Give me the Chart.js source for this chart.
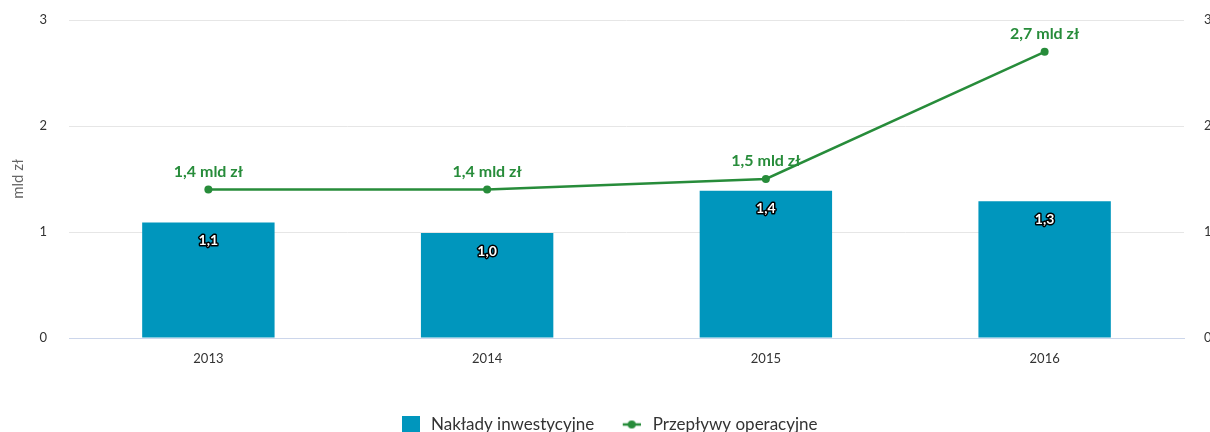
<!DOCTYPE html>
<html>
<head>
<meta charset="utf-8">
<script src="https://cdn.jsdelivr.net/npm/chart.js@4"></script>
<style>
html,body{margin:0;padding:0;background:#fff;}
#wrap{width:1210px;height:432px;position:relative;}
</style>
</head>
<body>
<div id="wrap"><canvas id="c" width="1210" height="432"></canvas></div>
<script>
const categories = ['2013', '2014', '2015', '2016'];
const capex = [1.09, 0.99, 1.39, 1.29];
const opCashFlow = [1.4, 1.4, 1.5, 2.7];
const yTicks = [0, 1, 2, 3];
const seriesNames = ['Nakłady inwestycyjne', 'Przepływy operacyjne'];
const axisTitle = 'mld zł';

const FONT = 'Lato, "Open Sans", sans-serif';
const BLUE = '#0096bd';
const GREEN = '#278c3a';

const fmt = v => v.toFixed(1).replace('.', ',');

function makeSquare() {
  const c = document.createElement('canvas');
  c.width = 25; c.height = 18;
  const x = c.getContext('2d');
  x.fillStyle = BLUE; x.fillRect(7, 0, 18, 18);
  return c;
}
function makeLineMarker() {
  const c = document.createElement('canvas');
  c.width = 23; c.height = 10;
  const x = c.getContext('2d');
  x.strokeStyle = GREEN; x.lineWidth = 2.5;
  x.beginPath(); x.moveTo(5, 5); x.lineTo(23, 5); x.stroke();
  x.fillStyle = GREEN; x.beginPath(); x.arc(14, 5, 4, 0, Math.PI * 2); x.fill();
  return c;
}
const squareImg = makeSquare();
const lineImg = makeLineMarker();

const labelPlugin = {
  id: 'valueLabels',
  afterDatasetsDraw(chart) {
    const ctx = chart.ctx;
    ctx.save();
    ctx.textAlign = 'center';
    ctx.textBaseline = 'middle';
    const barMeta = chart.getDatasetMeta(0);
    ctx.font = 'bold 14px ' + FONT;
    ctx.lineJoin = 'round';
    barMeta.data.forEach((el, i) => {
      const t = fmt(capex[i]);
      const y = el.y + 18;
      ctx.lineWidth = 3;
      ctx.strokeStyle = '#000';
      ctx.strokeText(t, el.x, y);
      ctx.fillStyle = '#fff';
      ctx.fillText(t, el.x, y);
    });
    const lineMeta = chart.getDatasetMeta(1);
    ctx.font = 'bold 16px ' + FONT;
    ctx.fillStyle = GREEN;
    lineMeta.data.forEach((el, i) => {
      ctx.fillText(fmt(opCashFlow[i]) + ' mld zł', el.x, el.y - 18);
    });
    ctx.restore();
  }
};

function noVPad(s) { s.paddingTop = 0; s.paddingBottom = 0; }

new Chart(document.getElementById('c'), {
  data: {
    labels: categories,
    datasets: [
      {
        type: 'bar',
        label: seriesNames[0],
        data: capex,
        backgroundColor: BLUE,
        borderWidth: 0,
        categoryPercentage: 1,
        barPercentage: 0.475,
        yAxisID: 'y',
        order: 2
      },
      {
        type: 'line',
        label: seriesNames[1],
        data: opCashFlow,
        borderColor: GREEN,
        backgroundColor: GREEN,
        borderWidth: 2.5,
        pointRadius: 4,
        pointBackgroundColor: GREEN,
        pointBorderWidth: 0,
        tension: 0,
        yAxisID: 'y',
        order: 1
      }
    ]
  },
  options: {
    responsive: false,
    animation: false,
    devicePixelRatio: 1,
    layout: { autoPadding: false, padding: { top: 20, left: 0, right: 0, bottom: -11 } },
    plugins: {
      tooltip: { enabled: false },
      legend: {
        position: 'bottom',
        labels: {
          font: { family: FONT, size: 17 },
          color: '#333',
          usePointStyle: true,
          pointStyleWidth: 30,
          boxHeight: 18,
          padding: 20,
          generateLabels(chart) {
            return [
              { text: seriesNames[0], pointStyle: squareImg, fillStyle: BLUE, strokeStyle: BLUE, lineWidth: 0, datasetIndex: 0, fontColor: '#333' },
              { text: seriesNames[1], pointStyle: lineImg, fillStyle: GREEN, strokeStyle: GREEN, lineWidth: 0, datasetIndex: 1, fontColor: '#333' }
            ];
          }
        }
      }
    },
    scales: {
      x: {
        grid: { display: false, drawTicks: false },
        border: { display: true, color: '#ccd6eb', width: 1 },
        ticks: { font: { family: FONT, size: 13 }, color: '#333', padding: 13, maxRotation: 0 },
        afterFit(s) { s.height = 58; }
      },
      y: {
        position: 'left',
        min: 0, max: 3,
        afterBuildTicks(s) { s.ticks = yTicks.map(v => ({ value: v })); },
        grid: { color: '#e6e6e6', drawTicks: false },
        border: { display: false },
        ticks: { font: { family: FONT, size: 13 }, color: '#333', padding: 22 },
        title: { display: true, text: axisTitle, font: { family: FONT, size: 15 }, color: '#666', padding: { top: 9, bottom: 0 } },
        afterFit(s) { s.width = 69; noVPad(s); }
      },
      y2: {
        position: 'right',
        min: 0, max: 3,
        afterBuildTicks(s) { s.ticks = yTicks.map(v => ({ value: v })); },
        grid: { display: false, drawTicks: false },
        border: { display: false },
        ticks: { font: { family: FONT, size: 13 }, color: '#333', padding: 20 },
        afterFit(s) { s.width = 26; noVPad(s); }
      }
    }
  },
  plugins: [labelPlugin]
});
</script>
</body>
</html>
